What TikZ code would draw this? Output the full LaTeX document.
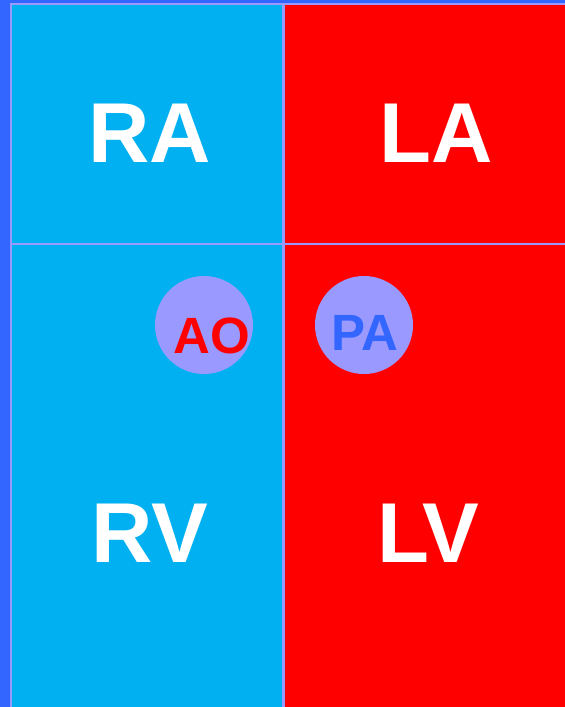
\documentclass[tikz,border=0pt]{standalone}
\usepackage{fontspec}
\setmainfont{Liberation Sans}
\definecolor{bgblue}{HTML}{3366FF}
\definecolor{cellcyan}{HTML}{00B0F0}
\definecolor{cellred}{HTML}{FF0000}
\definecolor{lav}{HTML}{9999FF}
\tikzset{
  chamber/.style={anchor=base, text=white, font=\fontsize{85}{85}\selectfont\bfseries, inner sep=0pt},
  vessel/.style={circle, fill=lav, minimum size=98pt, inner sep=0pt},
  vlabel/.style={anchor=base, font=\fontsize{51}{51}\selectfont\bfseries, inner sep=0pt},
  grid line/.style={draw=lav, line width=2.5pt}
}
\begin{document}
\begin{tikzpicture}[x=1pt,y=-1pt]
\useasboundingbox (0,0) rectangle (565,707);
\fill[bgblue] (0,0) rectangle (565,707);
\fill[cellcyan] (11,4) rectangle (283.5,720);
\fill[cellred] (283.5,4) rectangle (580,720);
\draw[grid line] (11,720) -- (11,4) -- (580,4);
\draw[grid line] (283.5,4) -- (283.5,720);
\draw[grid line] (11,244) -- (580,244);
\node[chamber] (ra) at (150,162) {RA};
\node[chamber] (la) at (436,162) {LA};
\node[chamber] (rv) at (149.5,562) {RV};
\node[chamber] (lv) at (428.5,562) {LV};
\node[vessel] (aoc) at (204,325) {};
\node[vessel] (pac) at (364,325) {};
\node[vlabel, text=cellred] (ao) at (211.5,353) {AO};
\node[vlabel, text=bgblue] (pa) at (365,350) {PA};
\end{tikzpicture}
\end{document}
